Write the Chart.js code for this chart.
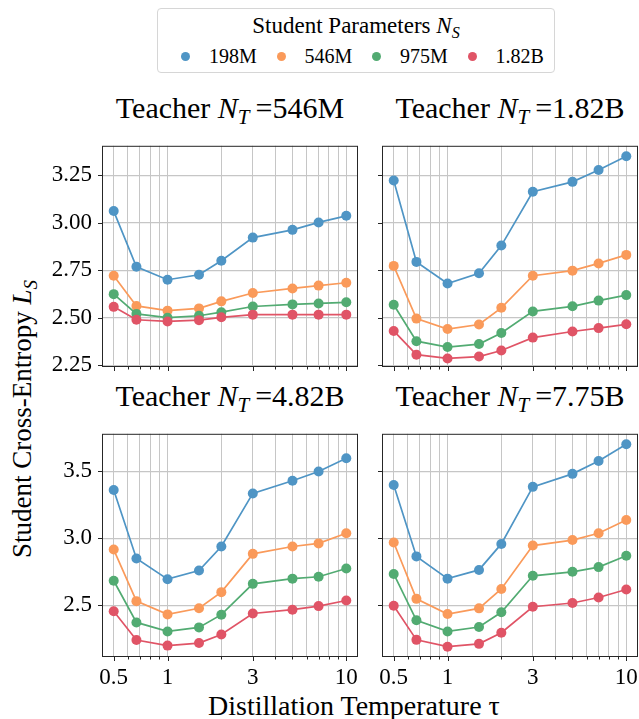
<!DOCTYPE html>
<html>
<head>
<meta charset="utf-8">
<script src="https://cdn.jsdelivr.net/npm/chart.js@4.4.1/dist/chart.umd.min.js"></script>
<style>
  body { margin: 0; width: 639px; height: 719px; background: #fff; position: relative; overflow: hidden;
         font-family: 'Liberation Serif', 'DejaVu Serif', serif; color: #000; }
  canvas { position: absolute; }
  .txt { position: absolute; white-space: nowrap; line-height: 1; }
  .sub { font-size: 0.7em; position: relative; top: 0.3em; }
  #legend { position: absolute; left: 157px; top: 8px; width: 398px; height: 65px;
            border: 1px solid #d6d6d6; border-radius: 4px; box-sizing: border-box; }
  .dot { position: absolute; width: 9px; height: 9px; border-radius: 50%; }
</style>
</head>
<body>
<div id="legend"></div>
<div id="texts"></div>
<script>
// distillation temperatures (x) and series
const temps = [0.5, 0.67, 1, 1.5, 2, 3, 5, 7, 10];
const students = ['198M', '546M', '975M', '1.82B'];
const teachers = ['546M', '1.82B', '4.82B', '7.75B'];
const colors = ['#4f95c5', '#fa9a5a', '#52ab72', '#e05466'];

// student cross-entropy, one row per student size
const loss546M = [
  [3.062, 2.768, 2.700, 2.726, 2.800, 2.922, 2.963, 3.002, 3.037],
  [2.721, 2.562, 2.537, 2.549, 2.586, 2.630, 2.654, 2.669, 2.684],
  [2.624, 2.520, 2.500, 2.510, 2.529, 2.559, 2.570, 2.575, 2.581],
  [2.557, 2.489, 2.480, 2.487, 2.502, 2.516, 2.516, 2.516, 2.516]
];
const loss182B = [
  [3.223, 2.794, 2.680, 2.734, 2.880, 3.164, 3.216, 3.278, 3.351],
  [2.773, 2.495, 2.440, 2.464, 2.552, 2.721, 2.748, 2.786, 2.831],
  [2.568, 2.376, 2.345, 2.361, 2.419, 2.533, 2.560, 2.590, 2.619],
  [2.430, 2.305, 2.285, 2.295, 2.327, 2.395, 2.427, 2.445, 2.465]
];
const loss482B = [
  [3.362, 2.850, 2.696, 2.760, 2.940, 3.336, 3.431, 3.500, 3.599],
  [2.917, 2.532, 2.433, 2.479, 2.599, 2.885, 2.940, 2.963, 3.039],
  [2.684, 2.373, 2.306, 2.336, 2.431, 2.661, 2.700, 2.714, 2.776],
  [2.456, 2.242, 2.200, 2.219, 2.283, 2.440, 2.468, 2.495, 2.537]
];
const loss775B = [
  [3.399, 2.866, 2.700, 2.765, 2.959, 3.385, 3.482, 3.578, 3.703],
  [2.970, 2.549, 2.436, 2.478, 2.623, 2.947, 2.988, 3.039, 3.138],
  [2.735, 2.389, 2.306, 2.339, 2.449, 2.721, 2.751, 2.786, 2.871],
  [2.497, 2.243, 2.192, 2.213, 2.296, 2.490, 2.518, 2.559, 2.619]
];

const xGrid = [0.5, 0.6, 0.7, 0.8, 0.9, 1, 2, 3, 4, 5, 6, 7, 8, 9, 10];
const xLabels = [0.5, 1, 3, 10];
const yTicksTop = [2.25, 2.5, 2.75, 3.0, 3.25];
const yTicksBottom = [2.5, 3.0, 3.5];

const SERIF = "'Liberation Serif', 'DejaVu Serif', serif";
Chart.defaults.font.family = SERIF;
Chart.defaults.color = '#000';

const AXW = 75, AXH = 36, PADT = 6, PADR = 14;

// box around the plot + tick marks (minor ones shorter, like matplotlib)
const frame = {
  id: 'frame',
  afterDraw(chart) {
    const { ctx, chartArea: a, scales } = chart;
    ctx.save();
    ctx.strokeStyle = '#262626';
    ctx.lineWidth = 1;
    ctx.beginPath();
    xGrid.forEach(v => {
      const px = Math.round(scales.x.getPixelForValue(v)) + 0.5;
      const len = xLabels.includes(v) ? 4 : 2.5;
      ctx.moveTo(px, a.bottom);
      ctx.lineTo(px, a.bottom + len);
    });
    scales.y.ticks.forEach(t => {
      const py = Math.round(scales.y.getPixelForValue(t.value)) + 0.5;
      ctx.moveTo(a.left, py);
      ctx.lineTo(a.left - 4, py);
    });
    ctx.stroke();
    ctx.strokeRect(a.left + 0.5, a.top + 0.5, a.width - 1, a.height - 1);
    ctx.restore();
  }
};

function addText(html, css) {
  const d = document.createElement('div');
  d.className = 'txt';
  d.innerHTML = html;
  Object.assign(d.style, css);
  document.getElementById('texts').appendChild(d);
  return d;
}

function panel(rect, losses, teacher, yMin, yMax, yTicks, dec, showX, showY) {
  const c = document.createElement('canvas');
  const w = rect.R - rect.L + AXW + PADR;
  const h = rect.B - rect.T + PADT + AXH;
  c.width = w; c.height = h;
  c.style.left = (rect.L - AXW) + 'px';
  c.style.top = (rect.T - PADT) + 'px';
  document.body.appendChild(c);

  addText('Teacher <i>N</i><span class="sub"><i>T</i></span>&thinsp;=' + teacher, {
    left: (rect.L - 10) + 'px', width: (rect.R - rect.L + 20) + 'px', textAlign: 'center',
    top: (rect.T - 35) + 'px', fontSize: '30px'
  });

  new Chart(c, {
    type: 'line',
    data: {
      datasets: students.map((s, i) => ({
        label: s,
        data: temps.map((t, j) => ({ x: t, y: losses[i][j] })),
        borderColor: colors[i],
        backgroundColor: colors[i],
        pointBackgroundColor: colors[i],
        pointBorderWidth: 0,
        pointRadius: 5,
        borderWidth: 1.7,
        order: 4 - i
      }))
    },
    options: {
      responsive: false,
      animation: false,
      layout: { padding: { top: PADT, right: PADR, left: 0, bottom: 0 } },
      plugins: { legend: { display: false }, tooltip: { enabled: false } },
      scales: {
        x: {
          type: 'logarithmic',
          min: 0.43, max: 11.63,
          afterBuildTicks: ax => { ax.ticks = xGrid.map(v => ({ value: v })); },
          afterFit: s => { s.height = AXH; },
          ticks: {
            autoSkip: false, maxRotation: 0, minRotation: 0, padding: 7,
            font: { family: SERIF, size: 23 },
            callback: v => (showX && xLabels.includes(v)) ? String(v) : ''
          },
          grid: { color: '#c6c6c6', lineWidth: 1, drawTicks: false },
          border: { display: false }
        },
        y: {
          min: yMin, max: yMax,
          afterBuildTicks: ax => { ax.ticks = yTicks.map(v => ({ value: v })); },
          afterFit: s => { s.width = AXW; },
          ticks: {
            padding: 10, font: { family: SERIF, size: 23 },
            callback: v => showY ? v.toFixed(dec) : ''
          },
          grid: { color: '#c6c6c6', lineWidth: 1.2, drawTicks: false },
          border: { display: false }
        }
      }
    },
    plugins: [frame]
  });
}

panel({ L: 102, T: 128, R: 358, B: 367 }, loss546M, teachers[0], 2.24, 3.406, yTicksTop, 2, false, true);
panel({ L: 382, T: 128, R: 638, B: 367 }, loss182B, teachers[1], 2.24, 3.406, yTicksTop, 2, false, false);
panel({ L: 102, T: 416, R: 358, B: 657 }, loss482B, teachers[2], 2.115, 3.781, yTicksBottom, 1, true, true);
panel({ L: 382, T: 416, R: 638, B: 657 }, loss775B, teachers[3], 2.115, 3.781, yTicksBottom, 1, true, false);

// shared axis labels
addText('Student Cross-Entropy <i>L</i><span class="sub"><i>S</i></span>', {
  left: '22px', top: '419px', fontSize: '27px', transform: 'translate(-50%, -50%) rotate(-90deg)'
});
addText('Distillation Temperature τ', { left: '208px', top: '692px', fontSize: '28px' });

// legend
const legend = document.getElementById('legend');
const lt = document.createElement('div');
lt.className = 'txt';
lt.innerHTML = 'Student Parameters <i>N</i><span class="sub"><i>S</i></span>';
Object.assign(lt.style, { left: '0', width: '100%', textAlign: 'center', top: '5px', fontSize: '23px' });
legend.appendChild(lt);
students.forEach((s, i) => {
  const x0 = 23 + i * 95.5;
  const dot = document.createElement('div');
  dot.className = 'dot';
  Object.assign(dot.style, { left: x0 + 'px', top: '43px', background: colors[i] });
  legend.appendChild(dot);
  const lab = document.createElement('div');
  lab.className = 'txt';
  lab.textContent = s;
  Object.assign(lab.style, { left: (x0 + 28) + 'px', top: '37px', fontSize: '20px' });
  legend.appendChild(lab);
});
</script>
</body>
</html>
